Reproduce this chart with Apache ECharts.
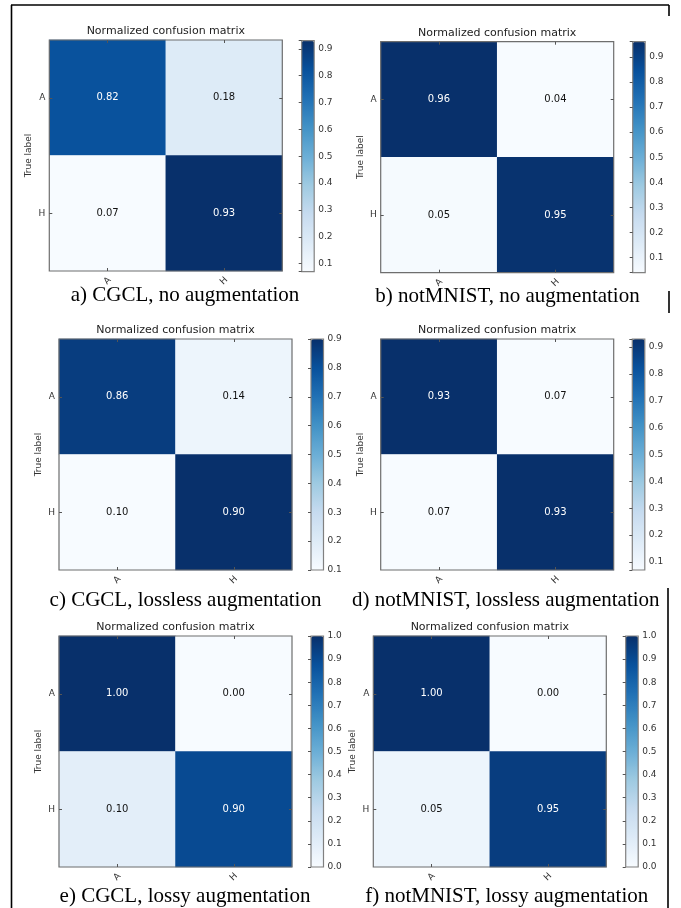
<!DOCTYPE html>
<html><head><meta charset="utf-8">
<script src="https://cdn.jsdelivr.net/npm/echarts@6/dist/echarts.min.js"></script>
<style>html,body{margin:0;padding:0;background:#fff}#c{width:681px;height:908px}</style>
</head><body><div id="c"></div>
<script>
// ---------- data ----------
const classLabels = ['A', 'H'];
const matrixTitle = 'Normalized confusion matrix';
const yAxisTitle = 'True label';
const captions = [
  'a) CGCL, no augmentation',
  'b) notMNIST, no augmentation',
  'c) CGCL, lossless augmentation',
  'd) notMNIST, lossless augmentation',
  'e) CGCL, lossy augmentation',
  'f) notMNIST, lossy augmentation'
];
// rows = true label (A, H), columns = predicted label (A, H)
const cgclNone         = [[0.82, 0.18], [0.07, 0.93]];
const notmnistNone     = [[0.96, 0.04], [0.05, 0.95]];
const cgclLossless     = [[0.86, 0.14], [0.10, 0.90]];
const notmnistLossless = [[0.93, 0.07], [0.07, 0.93]];
const cgclLossy        = [[1.00, 0.00], [0.10, 0.90]];
const notmnistLossy    = [[1.00, 0.00], [0.05, 0.95]];
const matrices = [cgclNone, notmnistNone, cgclLossless, notmnistLossless, cgclLossy, notmnistLossy];
const colorbarTickLabels = ['0.0','0.1','0.2','0.3','0.4','0.5','0.6','0.7','0.8','0.9','1.0'];

// ---------- layout / style ----------
const blues = ['#f7fbff','#deebf7','#c6dbef','#9ecae1','#6baed6','#4292c6','#2171b5','#08519c','#08306b'];
const layout = [
  {m: [49.3, 40],   cb: [301.7, 40.7], cap: [185, 295]},
  {m: [380.7, 41.7], cb: [632.7, 41.7], cap: [507.5, 296.7]},
  {m: [59, 339],    cb: [311, 339],    cap: [185.5, 600]},
  {m: [380.7, 339], cb: [632.3, 339],  cap: [505.8, 600]},
  {m: [59, 636],    cb: [311, 636],    cap: [185, 896]},
  {m: [373.3, 636], cb: [625.7, 636],  cap: [506.7, 896]}
];
const MW = 233, MH = 231, CBW = 12.5, CBH = 231;
const sans = 'DejaVu Sans';
const frameColor = '#6e6e6e';

const grid = [], xAxis = [], yAxis = [], series = [], visualMap = [], graphic = [];

function isTick(v) {
  const s = (Math.round(v * 10) / 10).toFixed(1);
  return Math.abs(v * 10 - Math.round(v * 10)) < 1e-6 && colorbarTickLabels.indexOf(s) >= 0;
}

matrices.forEach((mat, i) => {
  const L = layout[i];
  const flat = mat.flat();
  const vmin = Math.min(...flat), vmax = Math.max(...flat);
  // matrix grid
  grid.push({left: L.m[0], top: L.m[1], width: MW, height: MH, show: true, z: 10,
    backgroundColor: 'transparent', borderColor: frameColor, borderWidth: 1.2});
  // colorbar grid
  grid.push({left: L.cb[0], top: L.cb[1], width: CBW, height: CBH, show: true, z: 10,
    backgroundColor: 'transparent', borderColor: '#808080', borderWidth: 1.2});
  const g = 2 * i;
  const tickStyle = {show: true, inside: true, length: 3, alignWithLabel: true, lineStyle: {color: '#555', width: 1}};
  xAxis.push({type: 'category', gridIndex: g, data: classLabels, position: 'bottom', z: 11,
    axisLine: {show: false}, axisTick: tickStyle,
    axisLabel: {rotate: 45, align: 'center', verticalAlign: 'middle', margin: 10, fontSize: 9, color: '#333', fontFamily: sans}});
  xAxis.push({type: 'category', gridIndex: g, data: classLabels, position: 'top', z: 11,
    axisLine: {show: false}, axisTick: tickStyle, axisLabel: {show: false}});
  xAxis.push({type: 'value', gridIndex: g + 1, show: false, min: 0, max: 1});
  yAxis.push({type: 'category', gridIndex: g, data: classLabels, inverse: true, position: 'left', z: 11,
    axisLine: {show: false}, axisTick: tickStyle,
    axisLabel: {fontSize: 9, color: '#333', margin: 4, fontFamily: sans},
    name: yAxisTitle, nameLocation: 'middle', nameGap: 16, nameRotate: 90,
    nameTextStyle: {fontSize: 9, color: '#333', fontFamily: sans}});
  yAxis.push({type: 'category', gridIndex: g, data: classLabels, inverse: true, position: 'right', z: 11,
    axisLine: {show: false}, axisTick: tickStyle, axisLabel: {show: false}});
  yAxis.push({type: 'value', gridIndex: g + 1, position: 'right', min: vmin, max: vmax, z: 11,
    splitNumber: 9, minInterval: 0.1, maxInterval: 0.1,
    axisLine: {show: false}, splitLine: {show: false},
    axisTick: {show: true, inside: true, length: 3, lineStyle: {color: '#555', width: 1}},
    axisLabel: {fontSize: 9, color: '#333', margin: 4, fontFamily: sans,
      formatter: v => isTick(v) ? (Math.round(v * 10) / 10).toFixed(1) : ''}});
  const data = [];
  mat.forEach((row, t) => row.forEach((v, p) => {
    data.push({value: [p, t, v], label: {color: v > vmax / 2 ? '#ffffff' : '#111111'}});
  }));
  series.push({type: 'heatmap', xAxisIndex: 3 * i, yAxisIndex: 3 * i, data: data,
    label: {show: true, fontSize: 10, fontFamily: sans, formatter: p => p.value[2].toFixed(2)},
    emphasis: {disabled: true}});
  visualMap.push({type: 'continuous', seriesIndex: i, min: vmin, max: vmax,
    inRange: {color: blues}, calculable: false, orient: 'vertical', show: true,
    left: L.cb[0], top: L.cb[1], itemWidth: CBW, itemHeight: CBH, padding: 0,
    hoverLink: false, z: 4});
  // title above matrix
  graphic.push({type: 'text', x: L.m[0] + MW / 2, y: L.m[1] - 9, silent: true,
    style: {text: matrixTitle, font: '11px "DejaVu Sans"', fill: '#222', textAlign: 'center', textVerticalAlign: 'middle'}});
  // caption
  graphic.push({type: 'text', x: L.cap[0], y: L.cap[1], silent: true,
    style: {text: captions[i], font: '21px "Liberation Serif"', fill: '#000', textAlign: 'center', textVerticalAlign: 'middle'}});
});

// page frame lines
const frame = [
  [11, 5, 669, 5], [11.5, 5, 11.5, 908],
  [669, 5, 669, 16], [669, 291, 669, 313], [668, 588, 668, 908]
];
frame.forEach(f => graphic.push({type: 'line', silent: true,
  shape: {x1: f[0], y1: f[1], x2: f[2], y2: f[3]}, style: {stroke: '#000', lineWidth: 1.6}}));

const chart = echarts.init(document.getElementById('c'), null, {renderer: 'canvas'});
chart.setOption({animation: false, backgroundColor: '#fff', grid, xAxis, yAxis, series, visualMap, graphic});
</script></body></html>
